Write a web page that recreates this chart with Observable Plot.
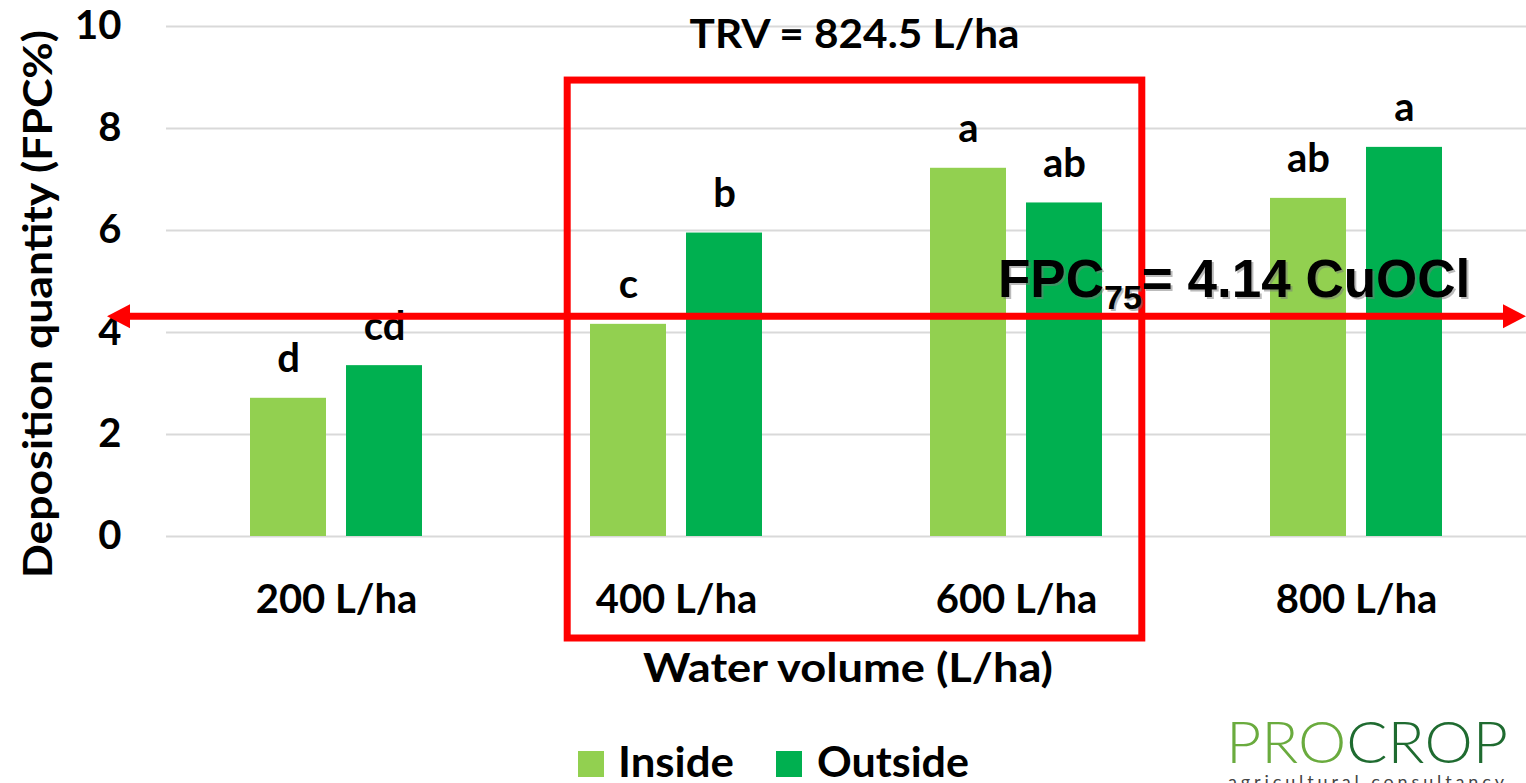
<!DOCTYPE html>
<html><head><meta charset="utf-8">
<script src="https://cdn.jsdelivr.net/npm/d3@7"></script>
<script src="https://cdn.jsdelivr.net/npm/@observablehq/plot@0.6"></script>
<style>
html,body{margin:0;padding:0;background:#fff;overflow:hidden}
#chart svg text{font-family:Lato,"Open Sans",sans-serif;font-weight:700;font-size:40px;fill:#000}
</style></head><body><div id="chart"></div>
<script>
const groups = ["200 L/ha", "400 L/ha", "600 L/ha", "800 L/ha"];
const seriesNames = ["Inside", "Outside"];
const insideValues = [2.71, 4.16, 7.22, 6.63];
const outsideValues = [3.35, 5.95, 6.54, 7.63];
const insideLetters = ["d", "c", "a", "ab"];
const outsideLetters = ["cd", "b", "ab", "a"];
const yTicks = [0, 2, 4, 6, 8, 10];
const seriesColors = ["#92D050", "#00B050"];
const titleText = "TRV = 824.5 L/ha";
const yLabel = "Deposition quantity (FPC%)";
const xLabel = "Water volume (L/ha)";
const fpcLineValue = 4.31;
const boxedGroups = ["400 L/ha", "600 L/ha"];
const boxYRange = [8.94, -2.0];

const rows = [];
groups.forEach((g, i) => {
  rows.push({group: g, series: seriesNames[0], value: insideValues[i], letter: insideLetters[i]});
  rows.push({group: g, series: seriesNames[1], value: outsideValues[i], letter: outsideLetters[i]});
});

const W = 1526, H = 783, ML = 165, MR = -4, MT = 26, MB = 247;

const plot = Plot.plot({
  width: W, height: H,
  marginTop: MT, marginBottom: MB, marginLeft: ML, marginRight: MR,
  style: {background: "white", overflow: "visible"},
  facet: {data: rows, x: "group", marginLeft: 0, marginRight: 0},
  fx: {domain: groups, padding: 0, axis: "bottom", label: null, tickSize: 0, tickPadding: 48},
  x: {domain: seriesNames, paddingInner: 0.21, paddingOuter: 0.8675, axis: null},
  y: {domain: [0, 10], ticks: yTicks, tickSize: 0, tickPadding: 45, label: null},
  color: {domain: seriesNames, range: seriesColors},
  marks: [
    Plot.ruleY(yTicks, {stroke: "#D9D9D9", strokeWidth: 2}),
    Plot.barY(rows, {x: "series", y: "value", fill: "series"}),
    Plot.text(rows, {x: "series", y: "value", text: "letter", dy: -26, lineAnchor: "bottom", fontSize: 40, fontWeight: "bold"})
  ]
});
document.getElementById("chart").appendChild(plot);

const svg = d3.select(plot.tagName.toLowerCase() === "svg" ? plot : plot.querySelector("svg"));
let fxS = null;
try { fxS = plot.scale("fx"); } catch (e) {}
const fxBand = d3.scaleBand().domain(groups).range([ML, W - MR]).padding(0);
const fxPos = g => (fxS && fxS.apply) ? fxS.apply(g) : fxBand(g);
const step = (fxS && fxS.bandwidth) ? fxS.bandwidth : fxBand.bandwidth();
const yS = plot.scale("y");
const yPos = v => yS.apply(v);

const ov = svg.append("g").attr("text-anchor", "start");
const FONT = "Lato, 'Open Sans', sans-serif";
function label(g, x, y, txt, anchor, len, size) {
  const t = g.append("text").attr("x", x).attr("y", y).attr("text-anchor", anchor)
    .style("font-family", FONT).style("font-weight", "700").style("font-size", (size || 40) + "px").style("fill", "#000")
    .text(txt);
  if (len) t.attr("textLength", len).attr("lengthAdjust", "spacingAndGlyphs");
  return t;
}

// red box
const bx1 = fxPos(boxedGroups[0]) + 0.18 * step;
const bx2 = fxPos(boxedGroups[1]) + 0.87 * step;
const by1 = yPos(boxYRange[0]), by2 = yPos(boxYRange[1]);
ov.append("rect").attr("x", bx1).attr("y", by1).attr("width", bx2 - bx1).attr("height", by2 - by1)
  .attr("fill", "none").attr("stroke", "#FF0000").attr("stroke-width", 7);

// red double arrow
const ay = yPos(fpcLineValue);
const ax1 = 107, ax2 = W;
ov.append("line").attr("x1", ax1 + 15).attr("x2", ax2 - 15).attr("y1", ay).attr("y2", ay)
  .attr("stroke", "#FF0000").attr("stroke-width", 7);
ov.append("path").attr("d", `M${ax1},${ay} L${ax1 + 23},${ay - 12} L${ax1 + 23},${ay + 12} Z`).attr("fill", "#FF0000");
ov.append("path").attr("d", `M${ax2},${ay} L${ax2 - 23},${ay - 12} L${ax2 - 23},${ay + 12} Z`).attr("fill", "#FF0000");

// title
label(ov, (bx1 + bx2) / 2, 48, titleText, "middle", 330);

// y label
label(ov, 0, 0, yLabel, "middle", 548).attr("x", null).attr("y", null)
  .attr("transform", "translate(52,304) rotate(-90)");

// x label
label(ov, 848, 682, xLabel, "middle", 410);

// FPC label with shadow
function fpc(g, dx, dy, color) {
  const t = g.append("text").attr("x", 998 + dx).attr("y", 297 + dy).attr("text-anchor", "start")
    .style("font-family", "'Liberation Sans', Arial, sans-serif").style("font-weight", "700")
    .style("font-size", "53px").style("fill", color);
  t.append("tspan").text("FPC");
  t.append("tspan").attr("dy", 12).style("font-size", "34px").text("75");
  t.append("tspan").attr("dy", -12).text("= 4.14 CuOCl");
}
fpc(ov, 2, 2, "rgba(120,120,120,0.5)");
fpc(ov, 0, 0, "#000");

// legend
const color = plot.scale("color");
const legendItems = [{name: seriesNames[0], sx: 578, tx: 618, len: 116}, {name: seriesNames[1], sx: 776, tx: 817, len: 152}];
legendItems.forEach(d => {
  ov.append("rect").attr("x", d.sx).attr("y", 751).attr("width", 26).attr("height", 26).attr("fill", color.apply(d.name));
  label(ov, d.tx, 777, d.name, "start", d.len, 42);
});

// logo
const logo = ov.append("text").attr("x", 1226).attr("y", 763).attr("text-anchor", "start")
  .attr("textLength", 282).attr("lengthAdjust", "spacingAndGlyphs")
  .style("font-family", FONT).style("font-weight", "300").style("font-size", "57px");
logo.append("tspan").style("fill", "#6AAB3E").text("PRO");
logo.append("tspan").style("fill", "#1F6B30").text("CROP");
ov.append("text").attr("x", 1228).attr("y", 788).attr("text-anchor", "start")
  .attr("textLength", 276).attr("lengthAdjust", "spacing")
  .style("font-family", FONT).style("font-weight", "400").style("font-size", "18px").style("fill", "#444")
  .text("agricultural consultancy");
</script></body></html>
